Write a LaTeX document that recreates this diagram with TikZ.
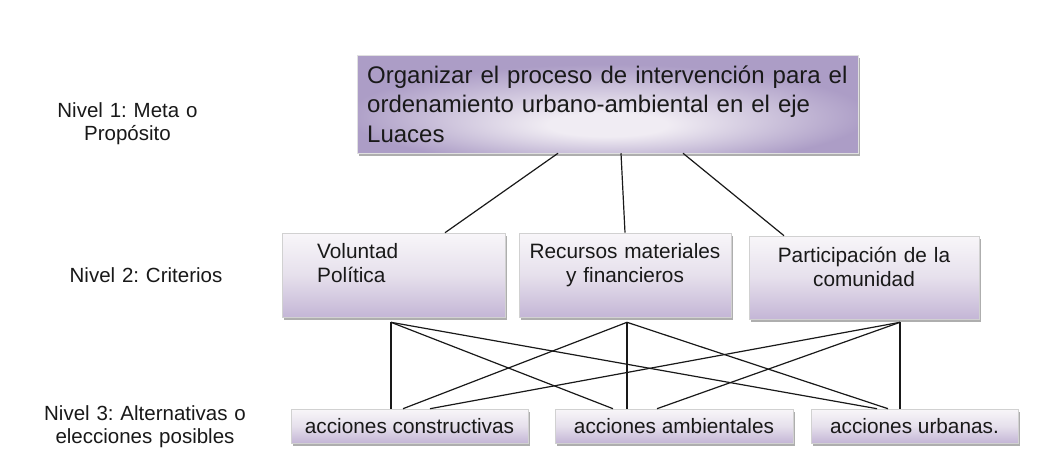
\documentclass[tikz,border=0pt]{standalone}
\usepackage{fontspec}
\setmainfont{Liberation Sans}
\frenchspacing
\usetikzlibrary{shadows}
\definecolor{lavtop}{HTML}{F8F6F9}
\definecolor{lavmid}{HTML}{E6E0EC}
\definecolor{lavbot}{HTML}{C4B6D6}
\definecolor{goalin}{HTML}{F0ECF3}
\definecolor{goalout}{HTML}{AC9DC6}
\pgfdeclareradialshading{goalshade}{\pgfpoint{0bp}{-12bp}}{color(0bp)=(goalin); color(6bp)=(goalin); color(26bp)=(goalout); color(50bp)=(goalout)}
\tikzset{
  shadowed/.style={drop shadow={shadow xshift=1.5pt, shadow yshift=-3pt, fill=black!45, opacity=0.7}},
  box/.style={rectangle, draw=black!18, line width=0.6pt, inner sep=0pt,
    top color=lavtop, bottom color=lavbot, middle color=lavmid, shadowed},
  goal/.style={rectangle, draw=black!12, line width=0.5pt, inner sep=0pt,
    shade, shading=goalshade, shadowed},
  txt/.style={inner sep=0pt, text=black!90},
  conn/.style={draw=black!90, line width=1.2pt},
  bigfont/.style={font=\fontsize{24}{29.5}\selectfont},
  midfont/.style={font=\fontsize{20.8}{24}\selectfont},
  labfont/.style={font=\fontsize{20.5}{23}\selectfont},
}
\begin{document}
\begin{tikzpicture}[x=1pt,y=-1pt]
\fill[white] (0,0) rectangle (1043,471);
\useasboundingbox (0,0) rectangle (1043,471);

% level 1
\node[goal, minimum width=501pt, minimum height=98pt] (top) at (607.5,104) {};
\node[txt, bigfont, anchor=base west, text width=490pt, align=left] (topt) at (367,83)
  {Organizar el proceso de intervención para el\\ordenamiento urbano-ambiental en el eje\\Luaces};

% level 2
\node[box, minimum width=223pt, minimum height=84pt] (vol) at (393.5,275) {};
\node[box, minimum width=212pt, minimum height=84pt] (rec) at (625,275) {};
\node[box, minimum width=230pt, minimum height=83pt] (par) at (864,277.5) {};
\node[txt, midfont, anchor=base west, text width=150pt, align=left] (volt) at (317,258) {Voluntad\\Política};
\node[txt, midfont, anchor=base, text width=205pt, align=center] (rect) at (625,258) {Recursos materiales\\y financieros};
\node[txt, midfont, anchor=base, text width=225pt, align=center] (part) at (864,262) {Participación de la\\comunidad};

% level 3
\node[box, midfont, text=black!90, minimum width=237pt, minimum height=34pt] (con) at (409.5,426) {acciones constructivas};
\node[box, midfont, text=black!90, minimum width=238pt, minimum height=34pt] (amb) at (674,426) {acciones ambientales};
\node[box, midfont, text=black!90, minimum width=207pt, minimum height=34pt] (urb) at (914.5,426) {acciones urbanas.};

% level labels
\node[txt, labfont, anchor=base, text width=220pt, align=center] (l1) at (127.5,117) {Nivel 1: Meta o\\Propósito};
\node[txt, labfont, anchor=base, text width=220pt, align=center] (l2) at (146,282) {Nivel 2: Criterios};
\node[txt, labfont, anchor=base, text width=220pt, align=center] (l3) at (145,420) {Nivel 3: Alternativas o\\elecciones posibles};

% connectors level 1 -> 2
\draw[conn] ([xshift=-49.5pt]top.south) -- ([xshift=51.5pt]vol.north);
\draw[conn] ([xshift=13.5pt]top.south) -- (rec.north);
\draw[conn] ([xshift=75.5pt]top.south) -- ([xshift=-80pt]par.north);

% connectors level 2 -> 3
\draw[conn] ([xshift=-2.5pt,yshift=-5pt]vol.south) -- ([xshift=-18.5pt]con.north);
\draw[conn] ([xshift=-2.5pt,yshift=-5pt]vol.south) -- ([xshift=-61pt]amb.north);
\draw[conn] ([xshift=-2.5pt,yshift=-5pt]vol.south) -- ([xshift=-37.5pt]urb.north);
\draw[conn] ([xshift=2pt,yshift=-5pt]rec.south) -- ([xshift=-6.5pt]con.north);
\draw[conn] ([xshift=2pt,yshift=-5pt]rec.south) -- ([xshift=-47pt]amb.north);
\draw[conn] ([xshift=2pt,yshift=-5pt]rec.south) -- ([xshift=-26.5pt]urb.north);
\draw[conn] ([xshift=36pt,yshift=-3pt]par.south) -- ([xshift=20.5pt]con.north);
\draw[conn] ([xshift=36pt,yshift=-3pt]par.south) -- ([xshift=-17pt]amb.north);
\draw[conn] ([xshift=36pt,yshift=-3pt]par.south) -- ([xshift=-14.5pt]urb.north);
\end{tikzpicture}
\end{document}
